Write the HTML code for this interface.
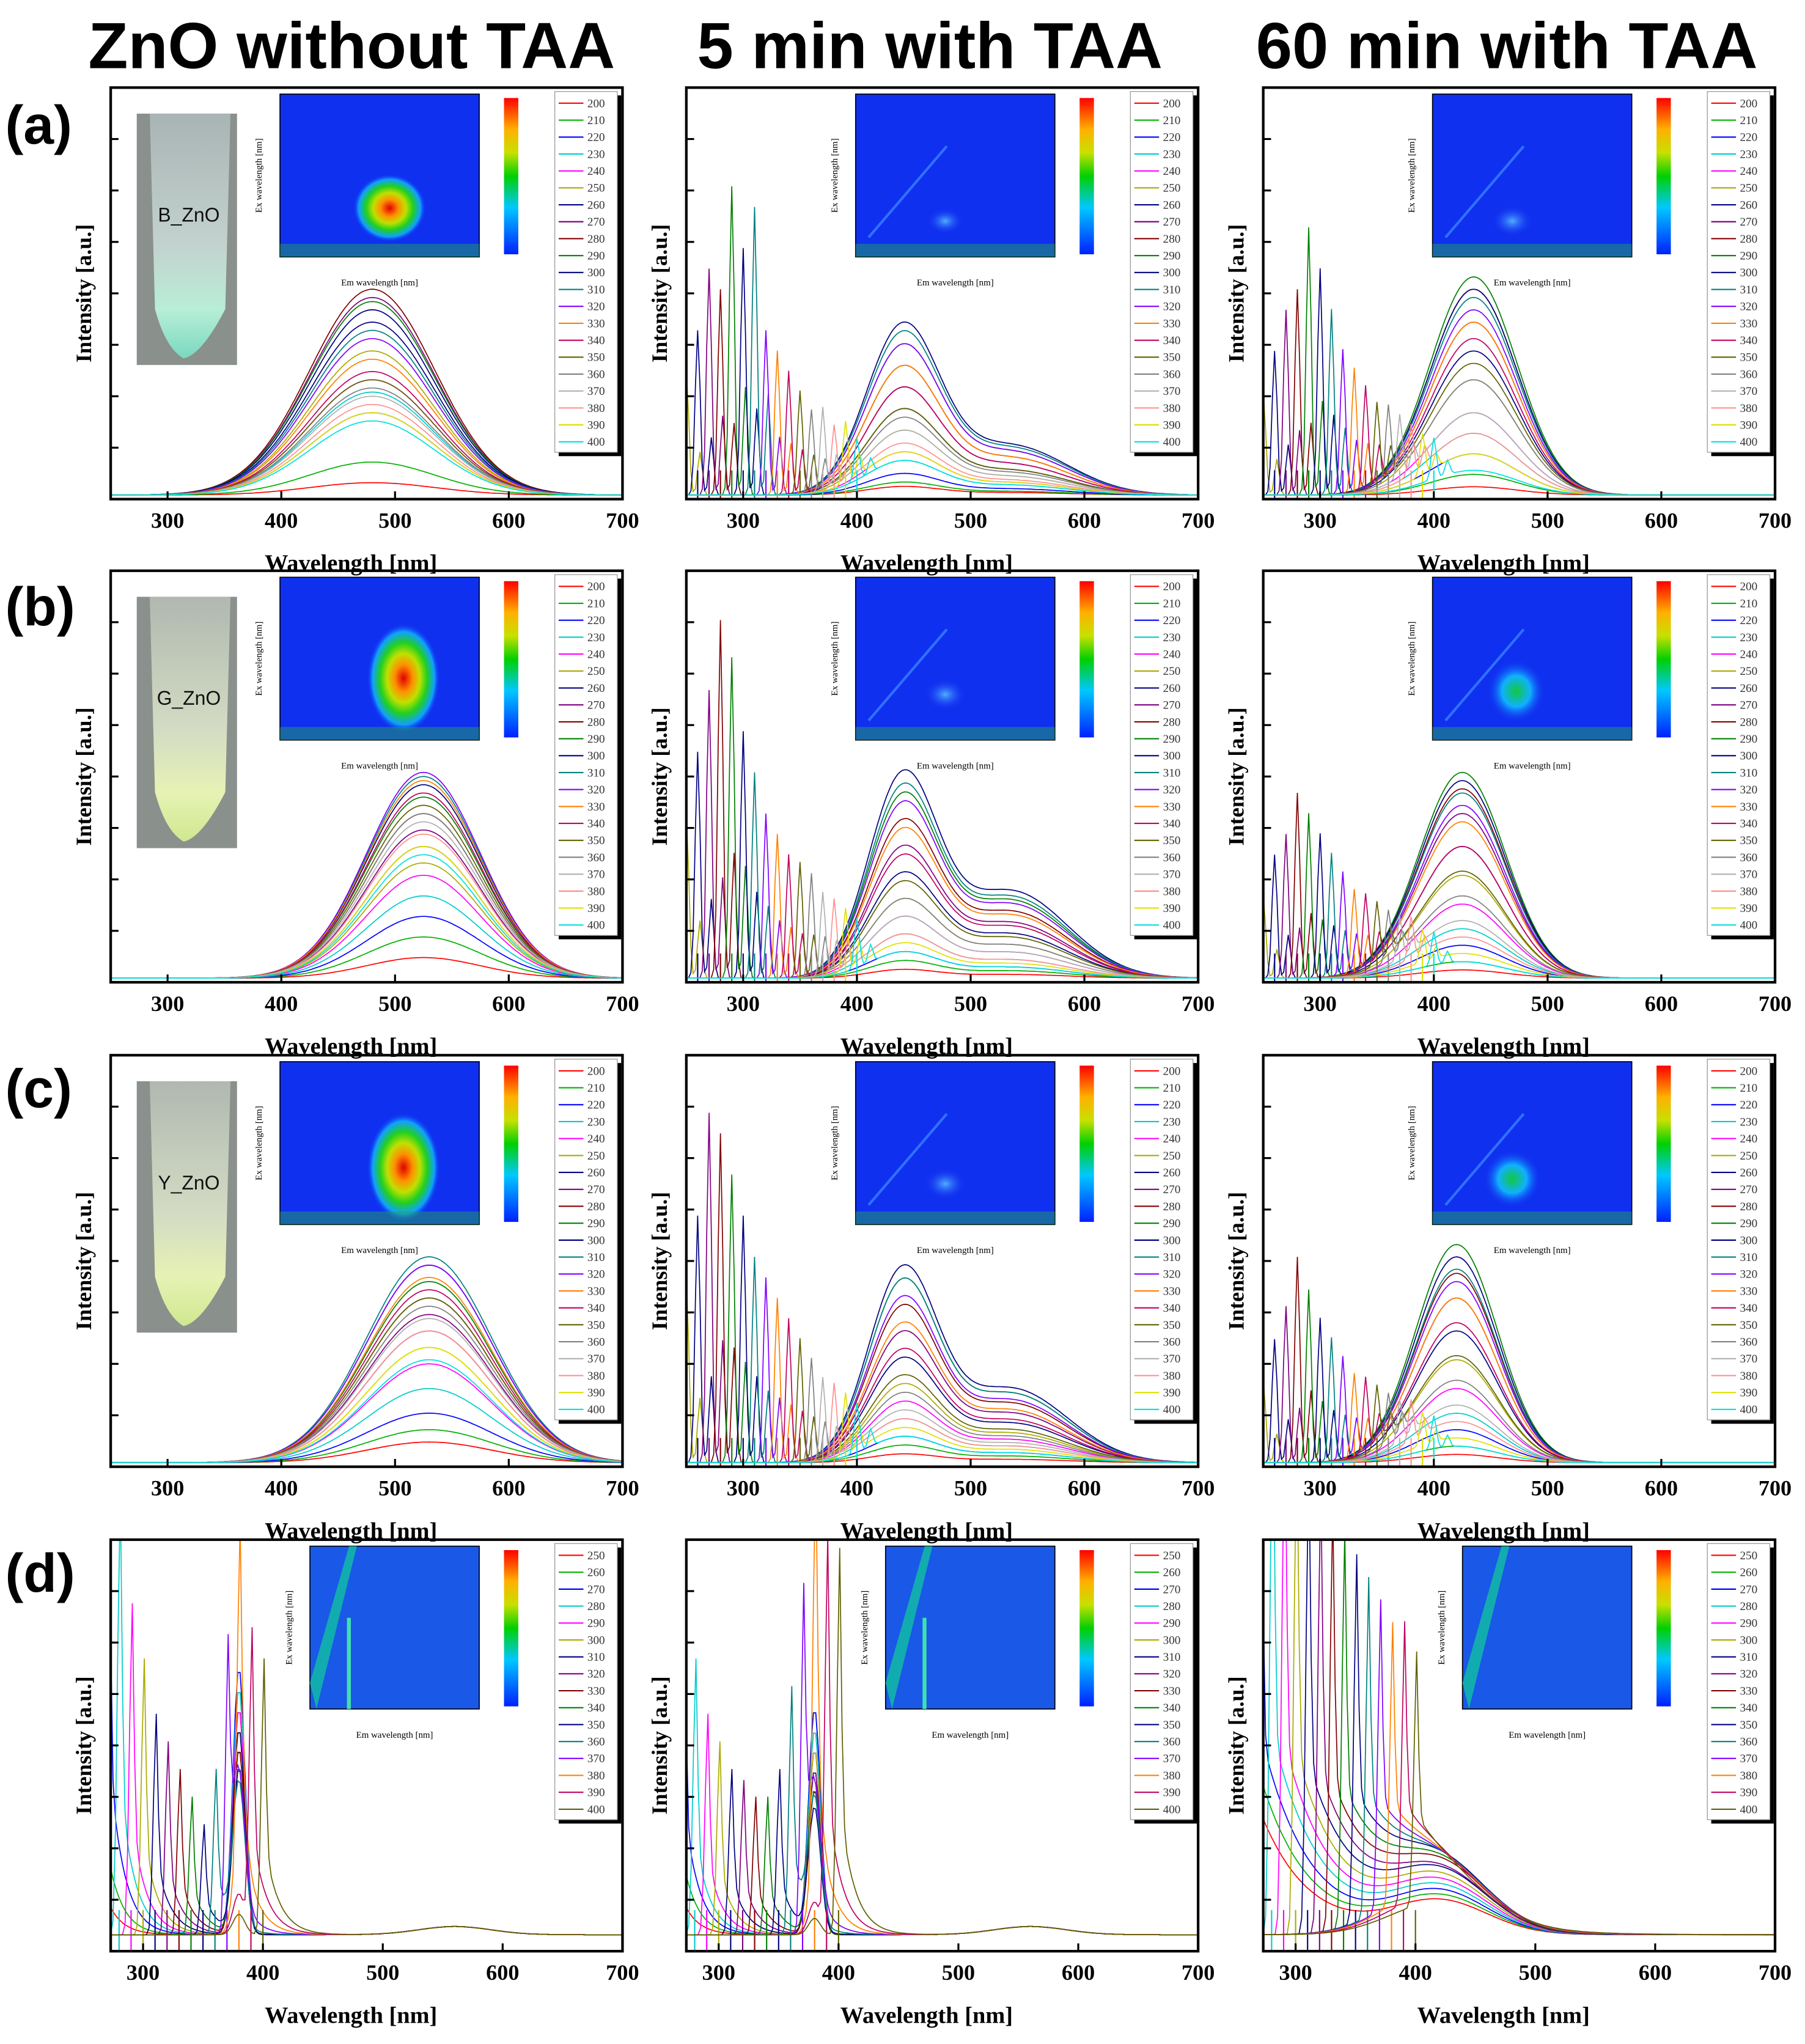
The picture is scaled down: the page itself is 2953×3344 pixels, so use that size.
<!DOCTYPE html>
<html><head><meta charset="utf-8"><style>
html,body{margin:0;padding:0;background:#fff;}
svg{display:block;}
</style></head><body>
<svg id="fig" xmlns="http://www.w3.org/2000/svg" width="2953" height="3344" viewBox="0 0 1386 1569">
<defs>
<linearGradient id="cbar" x1="0" y1="0" x2="0" y2="1">
<stop offset="0" stop-color="#ff0000"/><stop offset="0.2" stop-color="#ffb000"/><stop offset="0.35" stop-color="#c8e000"/><stop offset="0.5" stop-color="#00d000"/><stop offset="0.7" stop-color="#00c8ff"/><stop offset="1" stop-color="#0020ff"/>
</linearGradient>
<radialGradient id="blob" cx="0.5" cy="0.5" r="0.5">
<stop offset="0" stop-color="#e00000"/><stop offset="0.25" stop-color="#ff9000"/><stop offset="0.45" stop-color="#c0e000"/><stop offset="0.65" stop-color="#20d020"/><stop offset="0.85" stop-color="#10a0ff"/><stop offset="1" stop-color="#1030f0" stop-opacity="0"/>
</radialGradient>
<radialGradient id="faint" cx="0.5" cy="0.5" r="0.5">
<stop offset="0" stop-color="#50b0ff"/><stop offset="1" stop-color="#1030f0" stop-opacity="0"/>
</radialGradient>
<radialGradient id="blob3" cx="0.5" cy="0.5" r="0.5">
<stop offset="0" stop-color="#10c840"/><stop offset="0.5" stop-color="#10b0ff"/><stop offset="1" stop-color="#1030f0" stop-opacity="0"/>
</radialGradient>
<linearGradient id="tube" x1="0" y1="0" x2="0" y2="1">
<stop offset="0" stop-color="#a9b4b4"/><stop offset="0.55" stop-color="#c3d3cf"/><stop offset="0.8" stop-color="#b8eed8"/><stop offset="1" stop-color="#7ad8c0"/>
</linearGradient>
<linearGradient id="tubeG" x1="0" y1="0" x2="0" y2="1">
<stop offset="0" stop-color="#b0b8b0"/><stop offset="0.55" stop-color="#d4dcc4"/><stop offset="0.8" stop-color="#e6f2b4"/><stop offset="1" stop-color="#cfe890"/>
</linearGradient>
</defs>
<g font-family="Liberation Sans, sans-serif" font-weight="bold" font-size="50">
<text x="270" y="52" text-anchor="middle">ZnO without TAA</text>
<text x="714" y="52" text-anchor="middle">5 min with TAA</text>
<text x="1157" y="52" text-anchor="middle">60 min with TAA</text>
</g>
<g font-family="Liberation Sans, sans-serif" font-weight="bold" font-size="42">
<text x="4" y="110">(a)</text>
<text x="4" y="480">(b)</text>
<text x="4" y="850">(c)</text>
<text x="4" y="1222">(d)</text>
</g>
<g id="panels"></g>
</svg>
<script>
// Excitation wavelengths
const exABC = [200,210,220,230,240,250,260,270,280,290,300,310,320,330,340,350,360,370,380,390,400];
const exD = [250,260,270,280,290,300,310,320,330,340,350,360,370,380,390,400];
const colorsList = ['#ff0000','#00b000','#0000ff','#00cccc','#ff00ff','#aaaa00','#000080','#800080','#800000','#008000','#000080','#008080','#8000ff','#ff8000','#c00060','#606000','#808080','#b0b0b0','#ff9090','#e0e000','#00e0e0'];
const ticksX = [300,400,500,600,700];

// Row a
const a1Broad = [0.03,0.08,0.2,0.25,0.28,0.35,0.42,0.48,0.5,0.47,0.45,0.4,0.38,0.33,0.3,0.28,0.26,0.24,0.22,0.2,0.18];
const a1Spike = [0,0,0,0,0,0,0,0,0,0,0,0,0,0,0,0,0,0,0,0,0];
const a2Broad = [0.02,0.03,0.05,0.08,0.1,0.15,0.2,0.25,0.3,0.35,0.4,0.38,0.35,0.3,0.25,0.2,0.18,0.15,0.12,0.1,0.08];
const a2Spike = [0,0,0,0,0,0.3,0.4,0.55,0.5,0.75,0.6,0.7,0.4,0.35,0.3,0.25,0.2,0.2,0.15,0.15,0.1];
const a3Broad = [0.02,0.05,0.1,0.15,0.2,0.28,0.35,0.42,0.5,0.53,0.5,0.48,0.45,0.42,0.38,0.32,0.28,0.2,0.15,0.1,0.06];
const a3Spike = [0,0,0,0,0,0.25,0.35,0.45,0.5,0.65,0.55,0.45,0.35,0.3,0.25,0.2,0.18,0.15,0.12,0.1,0.1];
// Row b
const b1Broad = [0.05,0.1,0.15,0.2,0.25,0.28,0.32,0.36,0.4,0.44,0.47,0.49,0.5,0.48,0.45,0.42,0.4,0.38,0.35,0.32,0.3];
const b1Spike = [0,0,0,0,0,0,0,0,0,0,0,0,0,0,0,0,0,0,0,0,0];
const b2Broad = [0.02,0.04,0.06,0.1,0.14,0.18,0.24,0.3,0.36,0.42,0.47,0.44,0.4,0.34,0.28,0.22,0.18,0.14,0.1,0.08,0.06];
const b2Spike = [0,0,0,0,0,0.4,0.55,0.7,0.87,0.78,0.6,0.5,0.4,0.35,0.3,0.28,0.25,0.2,0.18,0.15,0.12];
const b3Broad = [0.02,0.04,0.08,0.12,0.18,0.25,0.32,0.4,0.46,0.5,0.48,0.45,0.42,0.38,0.32,0.26,0.2,0.14,0.1,0.06,0.04];
const b3Spike = [0,0,0,0,0,0.2,0.3,0.35,0.45,0.4,0.35,0.3,0.25,0.2,0.18,0.15,0.12,0.1,0.1,0.08,0.08];
// Row c
const c1Broad = [0.05,0.08,0.12,0.18,0.24,0.28,0.32,0.36,0.4,0.44,0.48,0.5,0.48,0.45,0.42,0.4,0.38,0.35,0.32,0.28,0.25];
const c1Spike = [0,0,0,0,0,0,0,0,0,0,0,0,0,0,0,0,0,0,0,0,0];
const c2Broad = [0.02,0.04,0.06,0.1,0.14,0.18,0.24,0.3,0.36,0.42,0.45,0.42,0.38,0.32,0.26,0.2,0.16,0.12,0.1,0.08,0.06];
const c2Spike = [0,0,0,0,0,0.45,0.6,0.85,0.8,0.7,0.6,0.5,0.45,0.4,0.35,0.3,0.25,0.2,0.18,0.15,0.12];
const c3Broad = [0.02,0.04,0.08,0.12,0.18,0.25,0.32,0.4,0.46,0.53,0.5,0.47,0.44,0.4,0.34,0.26,0.2,0.14,0.1,0.06,0.04];
const c3Spike = [0,0,0,0,0,0.2,0.3,0.38,0.5,0.42,0.35,0.3,0.25,0.2,0.18,0.15,0.12,0.1,0.1,0.08,0.08];
// Row d
const d1Spike = [0.9,0.95,1,0.8,0.6,0.5,0.4,0.35,0.3,0.25,0.2,0.3,0.5,0.6,0.55,0.5];
const d1Peak = [0.55,0.6,0.65,0.6,0.55,0.5,0.5,0.45,0.45,0.4,0.4,0.35,0.3,0.2,0.1,0.05];
const d2Spike = [0.9,0.85,0.7,0.5,0.4,0.35,0.3,0.28,0.25,0.25,0.3,0.45,0.6,0.75,0.72,0.7];
const d2Peak = [0.5,0.55,0.55,0.5,0.45,0.45,0.4,0.4,0.35,0.35,0.3,0.3,0.25,0.15,0.08,0.04];
const d3Spike = [1,1,1,1,0.95,0.9,0.85,0.8,0.75,0.7,0.65,0.6,0.55,0.5,0.5,0.45];
const d3Peak = [0.08,0.09,0.1,0.11,0.12,0.13,0.14,0.14,0.15,0.15,0.15,0.14,0.13,0.12,0.1,0.08];

const colX = [85,527,970], rowY = [67,438,810,1182], PW = 393, PH = 316;
const NS = 'http://www.w3.org/2000/svg';
const root = document.getElementById('panels');
function mk(tag, attrs, parent){const e=document.createElementNS(NS,tag);for(const k in attrs)e.setAttribute(k,attrs[k]);(parent||root).appendChild(e);return e;}
const g1 = (x,c,s)=>Math.exp(-0.5*((x-c)/s)*((x-c)/s));

const panelDefs = [
 {r:0,c:0,ex:exABC,broad:a1Broad,spike:a1Spike,bc:480,bs:55,photo:'B_ZnO',hm:'blob',hx:0.55,hy:0.7,hr:[28,26]},
 {r:0,c:1,ex:exABC,broad:a2Broad,spike:a2Spike,bc:440,bs:32,tail:0.3,hm:'faint',hx:0.45,hy:0.78,hr:[14,10]},
 {r:0,c:2,ex:exABC,broad:a3Broad,spike:a3Spike,bc:435,bs:38,hm:'faint',hx:0.4,hy:0.78,hr:[16,12]},
 {r:1,c:0,ex:exABC,broad:b1Broad,spike:b1Spike,bc:525,bs:50,photo:'G_ZnO',hm:'blob',hx:0.62,hy:0.62,hr:[28,42]},
 {r:1,c:1,ex:exABC,broad:b2Broad,spike:b2Spike,bc:440,bs:30,tail:0.45,hm:'faint',hx:0.45,hy:0.72,hr:[16,12]},
 {r:1,c:2,ex:exABC,broad:b3Broad,spike:b3Spike,bc:425,bs:38,hm:'blob3',hx:0.42,hy:0.7,hr:[22,24]},
 {r:2,c:0,ex:exABC,broad:c1Broad,spike:c1Spike,bc:530,bs:55,photo:'Y_ZnO',hm:'blob',hx:0.62,hy:0.65,hr:[28,42]},
 {r:2,c:1,ex:exABC,broad:c2Broad,spike:c2Spike,bc:440,bs:30,tail:0.4,hm:'faint',hx:0.45,hy:0.75,hr:[16,12]},
 {r:2,c:2,ex:exABC,broad:c3Broad,spike:c3Spike,bc:420,bs:36,hm:'blob3',hx:0.4,hy:0.72,hr:[22,22]},
 {r:3,c:0,ex:exD,spike:d1Spike,peak:d1Peak,d:true,dt:12,hm:'streak'},
 {r:3,c:1,ex:exD,spike:d2Spike,peak:d2Peak,d:true,dt:12,hm:'streak'},
 {r:3,c:2,ex:exD,spike:d3Spike,peak:d3Peak,d:true,dt:40,broadD:true,hm:'streak2'},
];

panelDefs.forEach((p,pi)=>{
 const X0 = colX[p.c], Y0 = rowY[p.r];
 const xmin = p.d ? 273 : 250, xmax = 700;
 const sx = v => X0 + (v-xmin)/(xmax-xmin)*PW;
 const sy = v => Y0 + PH - v*PH;
 const g = mk('g',{});
 
 
 const cid = 'clip'+pi;
 const cp = mk('clipPath',{id:cid},g); mk('rect',{x:X0,y:Y0,width:PW,height:PH},cp);
 const lines = mk('g',{'clip-path':'url(#'+cid+')'},g);
 p.ex.forEach((ex,i)=>{
  let d='';
  for(let x=xmin;x<=xmax;x+=2){
   let y = 0.01;
   if(!p.d){
    y += p.broad[i]*g1(x,p.bc,p.bs);
    if(p.tail) y += p.broad[i]*p.tail*g1(x,535,50);
    y += p.spike[i]*g1(x,ex,2.2);
    y += p.spike[i]*0.35*g1(x,ex+12,2);
   } else {
    y += 0.03 + p.spike[i]*g1(x,ex,2);
    if(x>ex) y += p.spike[i]*0.5*Math.exp(-(x-ex)/p.dt);
    if(p.broadD){ y += p.peak[i]*g1(x,420,40); }
    else { y += p.peak[i]*g1(x,380,5); y+= 0.02*g1(x,560,30); }
   }
   d += (d?'L':'M')+sx(x).toFixed(1)+' '+sy(y).toFixed(1);
  }
  const col = colorsList[i%colorsList.length];
  const path = mk('path',{d:d,fill:'none',stroke:col,'stroke-width':0.8},lines);
  
  
  if(ex>xmin && !(p.c===0 && !p.d)){
   const vl = mk('line',{x1:sx(ex),x2:sx(ex),y1:sy(0),y2:sy(p.d?0.1:0.07),stroke:col,'stroke-width':1},lines);
   
   
  }
 });
 const fr = mk('rect',{x:X0,y:Y0,width:PW,height:PH,fill:'none',stroke:'#000','stroke-width':2},g);
 
 
 for(let k=1;k<8;k++){ mk('line',{x1:X0,x2:X0+6,y1:Y0+k*PH/8,y2:Y0+k*PH/8,stroke:'#000','stroke-width':1.5},g); }
 ticksX.forEach(t=>{
  mk('line',{x1:sx(t),x2:sx(t),y1:Y0+PH,y2:Y0+PH-6,stroke:'#000','stroke-width':1.5},g);
  const tl = mk('text',{x:sx(t),y:Y0+PH+22,'text-anchor':'middle','font-family':'Liberation Serif, serif','font-weight':'bold','font-size':17},g);
  tl.textContent=t;
  
  
 });
 const xt = mk('text',{x:X0+PW/2-12,y:Y0+PH+55,'text-anchor':'middle','font-family':'Liberation Serif, serif','font-weight':'bold','font-size':18},g);
 xt.textContent='Wavelength [nm]';
 
 
 const yt = mk('text',{x:0,y:0,'text-anchor':'middle','font-family':'Liberation Serif, serif','font-weight':'bold','font-size':17,transform:'translate('+(X0-15)+','+(Y0+PH*0.5)+') rotate(-90)'},g);
 yt.textContent='Intensity [a.u.]';
 
 
 if(p.photo){
  const ph = mk('g',{},g);
  
  
  const py = Y0+20, pw=77, phh=193, px=X0+20;
  mk('rect',{x:px,y:py,width:pw,height:phh,fill:'#8a908c'},ph);
  mk('path',{d:`M${px+10} ${py} L${px+72} ${py} L${px+68} ${py+150} Q${px+50} ${py+185} ${px+36} ${py+188} Q${px+22} ${py+180} ${px+14} ${py+150} Z`,fill:p.photo[0]==='B'?'url(#tube)':'url(#tubeG)'},ph);
  const pt = mk('text',{x:px+40,y:py+83,'text-anchor':'middle','font-family':'Liberation Sans, sans-serif','font-size':15,fill:'#111'},ph);
  pt.textContent=p.photo;
  
  
 }
 const hx0 = X0+(p.d?153:130), hy0 = Y0+5, hw = X0+283-hx0, hh = 125;
 const hm = mk('g',{},g);
 
 
 mk('rect',{x:hx0,y:hy0,width:hw,height:hh,fill:p.d?'#1a58e8':'#1030f0',stroke:'#000','stroke-width':0.8},hm);
 if(p.hm==='streak'||p.hm==='streak2'){
  mk('path',{d:`M${hx0} ${hy0+hh-20} L${hx0+30} ${hy0} L${hx0+36} ${hy0} L${hx0+5} ${hy0+hh}Z`,fill:'#10c0a0',opacity:0.8},hm);
  if(p.hm==='streak') mk('line',{x1:hx0+hw*0.23,x2:hx0+hw*0.23,y1:hy0+55,y2:hy0+hh,stroke:'#40e0b0','stroke-width':3},hm);
 } else {
  mk('ellipse',{cx:hx0+hw*p.hx,cy:hy0+hh*p.hy,rx:p.hr[0],ry:p.hr[1],fill:'url(#'+p.hm+')'},hm);
  mk('rect',{x:hx0,y:hy0+hh-10,width:hw,height:10,fill:'#20a060',opacity:0.5},hm);
  if(p.c>0) mk('line',{x1:hx0+10,y1:hy0+hh-15,x2:hx0+70,y2:hy0+40,stroke:'#3070ff','stroke-width':2},hm);
 }
 const hl = mk('text',{x:hx0+hw/2,y:hy0+hh+22,'text-anchor':'middle','font-family':'Liberation Serif, serif','font-size':7},g);
 hl.textContent='Em wavelength [nm]';
 
 
 const hyl = mk('text',{x:0,y:0,'text-anchor':'middle','font-family':'Liberation Serif, serif','font-size':7,transform:'translate('+(hx0-14)+','+(hy0+hh/2)+') rotate(-90)'},g);
 hyl.textContent='Ex wavelength [nm]';
 
 
 const cb = mk('rect',{x:X0+302,y:Y0+8,width:11,height:120,fill:'url(#cbar)'},g);
 
 
 const ex = p.ex, lh = 13;
 const lg = mk('g',{},g);
 
 
 const lx = X0+341, ly = Y0+3, lHeight = ex.length*lh+4;
 mk('rect',{x:lx+3,y:ly+3,width:48,height:lHeight,fill:'#000'},lg);
 mk('rect',{x:lx,y:ly,width:48,height:lHeight,fill:'#fff',stroke:'#999','stroke-width':0.6},lg);
 ex.forEach((e,i)=>{
  const col = colorsList[i%colorsList.length];
  const yy = ly+9+i*lh;
  mk('line',{x1:lx+3,x2:lx+22,y1:yy,y2:yy,stroke:col,'stroke-width':1},lg);
  const t = mk('text',{x:lx+25,y:yy+3,'font-family':'Liberation Serif, serif','font-size':9,fill:'#333'},lg);
  t.textContent=e;
  
  
 });
});
</script>
</body></html>
